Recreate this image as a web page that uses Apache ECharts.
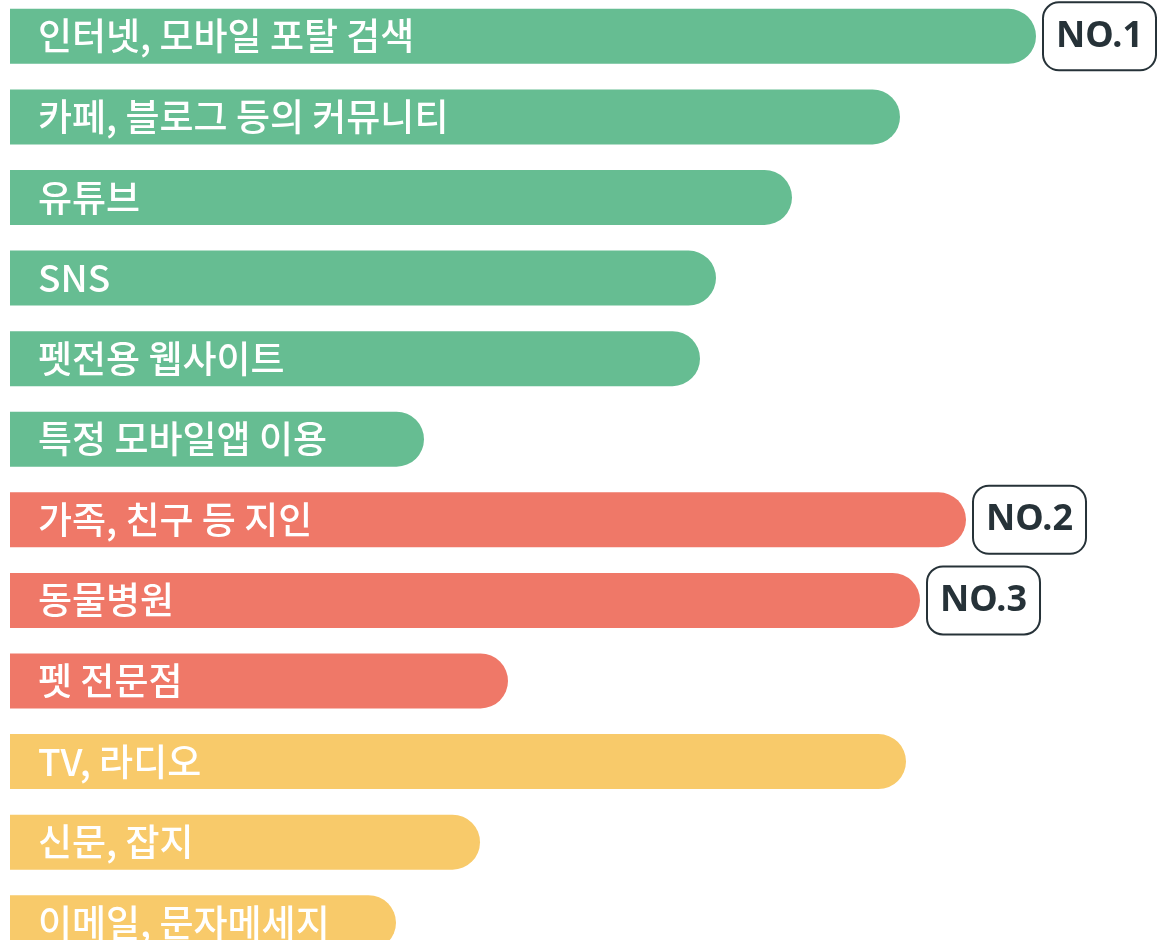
<!DOCTYPE html>
<html>
<head>
<meta charset="utf-8">
<script src="https://cdn.jsdelivr.net/npm/echarts@6/dist/echarts.min.js"></script>
<style>
html,body{margin:0;padding:0;background:#fff;overflow:hidden;}
#chart{position:absolute;left:0;top:-4px;width:1157px;height:967px;}
</style>
</head>
<body>
<div id="chart"></div>
<script>
const categories = ['인터넷, 모바일 포탈 검색','카페, 블로그 등의 커뮤니티','유튜브','SNS','펫전용 웹사이트','특정 모바일앱 이용','가족, 친구 등 지인','동물병원','펫 전문점','TV, 라디오','신문, 잡지','이메일, 문자메세지'];
const values = [51.3, 44.5, 39.1, 35.3, 34.5, 20.7, 47.8, 45.5, 24.9, 44.8, 23.5, 19.3];
const groups = ['online','online','online','online','online','online','people','people','people','media','media','media'];
const ranks = ['NO.1','','','','','','NO.2','NO.3','','','',''];
const groupColors = {online:'#66BD92', people:'#EF7868', media:'#F8CA6A'};

const chart = echarts.init(document.getElementById('chart'));
chart.setOption({
  animation:false,
  grid:{left:10, right:0, top:0, bottom:0, containLabel:false},
  xAxis:{type:'value', min:0, max:57.35, show:false},
  yAxis:{type:'category', data:categories, inverse:true, show:false},
  series:[
    {
      type:'bar', barWidth:55,
      data: values.map((v,i)=>({value:v, itemStyle:{color:groupColors[groups[i]]}})),
      itemStyle:{borderRadius:[0,28,28,0]},
      label:{show:true, position:'insideLeft', distance:28, color:'#fff', fontSize:37, fontWeight:500,
        fontFamily:'"Noto Sans CJK KR", sans-serif',
        formatter:(p)=>categories[p.dataIndex]}
    },
    {
      type:'bar', barWidth:55, barGap:'-100%', silent:true,
      data: values.map((v,i)=>({value:v, label:{show: ranks[i] !== ''}})),
      itemStyle:{color:'rgba(0,0,0,0)'},
      label:{position:'right', distance:8,
        formatter:(p)=>ranks[p.dataIndex],
        color:'#263238', fontSize:36, fontWeight:'bold', fontFamily:'"Noto Sans", sans-serif',
        lineHeight:38, backgroundColor:'#fff', borderColor:'#263238', borderWidth:2, borderRadius:15,
        padding:[15,12,13,12]}
    }
  ]
});
</script>
</body>
</html>
